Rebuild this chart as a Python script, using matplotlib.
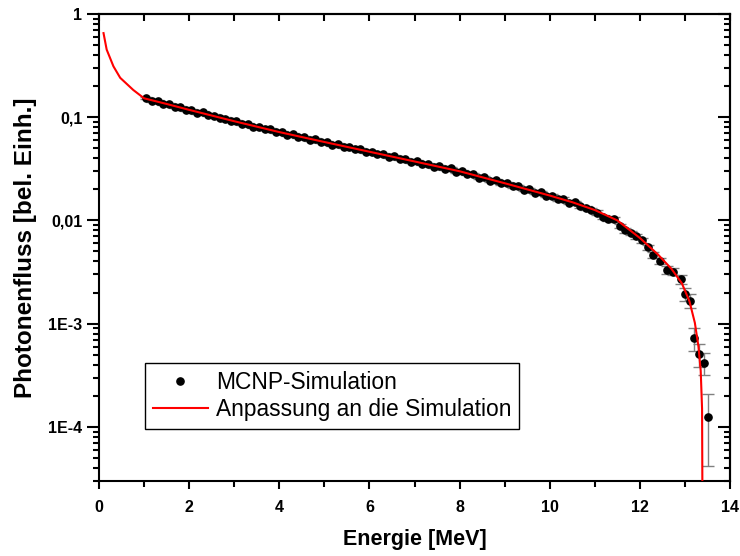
import numpy as np
import matplotlib
matplotlib.use("Agg")
import matplotlib.pyplot as plt
from matplotlib.lines import Line2D
from matplotlib.ticker import FixedLocator, FixedFormatter, LogLocator, NullFormatter, MultipleLocator

plt.rcParams['font.family'] = ['Liberation Sans', 'DejaVu Sans']

# MCNP simulation: energy [MeV], photon flux [arb. units], relative error
energy = [1.05, 1.175, 1.3, 1.425, 1.55, 1.675, 1.8, 1.925,
          2.05, 2.175, 2.3, 2.425, 2.55, 2.675, 2.8, 2.925,
          3.05, 3.175, 3.3, 3.425, 3.55, 3.675, 3.8, 3.925,
          4.05, 4.175, 4.3, 4.425, 4.55, 4.675, 4.8, 4.925,
          5.05, 5.175, 5.3, 5.425, 5.55, 5.675, 5.8, 5.925,
          6.05, 6.175, 6.3, 6.425, 6.55, 6.675, 6.8, 6.925,
          7.05, 7.175, 7.3, 7.425, 7.55, 7.675, 7.8, 7.925,
          8.05, 8.175, 8.3, 8.425, 8.55, 8.675, 8.8, 8.925,
          9.05, 9.175, 9.3, 9.425, 9.55, 9.675, 9.8, 9.925,
          10.05, 10.175, 10.3, 10.425, 10.55, 10.675, 10.8, 10.925,
          11.05, 11.175, 11.3, 11.425, 11.55, 11.675, 11.8, 11.925,
          12.05, 12.175,
          12.30, 12.45, 12.60, 12.74, 12.91, 13.00, 13.11, 13.19, 13.31, 13.43, 13.52]
flux = [0.152, 0.143, 0.142, 0.134, 0.133, 0.126, 0.125, 0.118,
        0.117, 0.110, 0.111, 0.104, 0.1035, 0.0972, 0.0968, 0.0915,
        0.0912, 0.0862, 0.0858, 0.0808, 0.0805, 0.0761, 0.0765, 0.0718,
        0.0712, 0.0675, 0.0681, 0.0641, 0.0638, 0.0603, 0.0609, 0.0574,
        0.0573, 0.0541, 0.0545, 0.0513, 0.0514, 0.0488, 0.0488, 0.0458,
        0.0463, 0.0436, 0.0440, 0.0414, 0.0416, 0.0390, 0.0395, 0.0370,
        0.0374, 0.0349, 0.0353, 0.0331, 0.0336, 0.0313, 0.0318, 0.0296,
        0.0299, 0.0279, 0.0281, 0.0260, 0.0262, 0.0243, 0.0246, 0.0228,
        0.0230, 0.0213, 0.0215, 0.0199, 0.0201, 0.0185, 0.0187, 0.0173,
        0.0174, 0.0160, 0.0161, 0.0148, 0.0149, 0.0137, 0.0132, 0.0127,
        0.0119, 0.0108, 0.0104, 0.0102, 0.0088, 0.0080, 0.0076, 0.0070,
        0.0064, 0.0055,
        4.63e-3, 4.05e-3, 3.32e-3, 3.19e-3, 2.69e-3, 1.94e-3, 1.67e-3, 7.2e-4, 5.1e-4, 4.2e-4, 1.26e-4]
rel_err = [0.025] * 72 + [0.035] * 8 + [0.05] * 10 + \
          [0.07, 0.07, 0.08, 0.08, 0.09, 0.14, 0.15, 0.25, 0.25, 0.24, 0.67]

# fitted curve
fit_energy = [0.10, 0.17, 0.32, 0.47, 0.76, 1.0, 1.5, 2.0, 3.0, 4.0, 5.0, 6.0, 7.0, 8.0,
              9.0, 10.0, 10.5, 11.0, 11.5, 12.0, 12.4, 12.7, 12.93, 13.1, 13.22, 13.30,
              13.35, 13.38, 13.40]
fit_flux = [0.65, 0.45, 0.31, 0.24, 0.183, 0.152, 0.134, 0.1175, 0.0912, 0.0716, 0.0574,
            0.0462, 0.0372, 0.0299, 0.0229, 0.0174, 0.0150, 0.0126, 0.0100, 0.00676,
            0.00468, 0.0034, 0.00247, 0.00165, 0.00102, 6.0e-4, 3.5e-4, 1.5e-4, 1e-6]

y_ticks = [1, 0.1, 0.01, 1e-3, 1e-4]
y_ticklabels = ["1", "0,1", "0,01", "1E-3", "1E-4"]

fig = plt.figure(figsize=(7.4, 5.56), dpi=100)
ax = fig.add_axes([0.1338, 0.1349, 0.8527, 0.8403])

flux_arr = np.array(flux)
ax.errorbar(energy, flux, yerr=flux_arr * np.array(rel_err), fmt='o', color='black',
            markersize=5.2, ecolor='#808080', elinewidth=1, capsize=4.5, capthick=1,
            zorder=2)
ax.plot(fit_energy, fit_flux, color='red', linewidth=1.5, zorder=3)

ax.set_yscale('log')
ax.set_xlim(0, 14)
ax.set_ylim(3.0e-5, 1)

ax.xaxis.set_major_locator(MultipleLocator(2))
ax.xaxis.set_minor_locator(MultipleLocator(1))
ax.yaxis.set_major_locator(FixedLocator(y_ticks))
ax.yaxis.set_major_formatter(FixedFormatter(y_ticklabels))
ax.yaxis.set_minor_locator(LogLocator(base=10, subs=np.arange(2, 10), numticks=20))
ax.yaxis.set_minor_formatter(NullFormatter())

for sp in ax.spines.values():
    sp.set_linewidth(1.5)
ax.tick_params(which='major', direction='out', length=6, width=1.5, labelsize=11.5)
ax.tick_params(axis='x', which='major', pad=8)
ax.tick_params(axis='y', which='major', length=9, pad=3)
ax.tick_params(which='minor', direction='out', length=4.5, width=1.5)
for lab in ax.get_xticklabels() + ax.get_yticklabels():
    lab.set_fontweight('bold')

# mirrored axes with inward ticks on top and right
top = ax.secondary_xaxis('top')
top.xaxis.set_major_locator(MultipleLocator(1))
top.tick_params(which='both', direction='in', length=5, width=1.5, labeltop=False)
right = ax.secondary_yaxis('right')
right.yaxis.set_major_locator(FixedLocator(y_ticks))
right.yaxis.set_minor_locator(LogLocator(base=10, subs=np.arange(2, 10), numticks=20))
right.yaxis.set_minor_formatter(NullFormatter())
right.tick_params(which='major', direction='in', length=9, width=1.5, labelright=False)
right.tick_params(which='minor', direction='in', length=4.5, width=1.5)
for s in (top, right):
    for sp in s.spines.values():
        sp.set_linewidth(1.5)

ax.set_xlabel("Energie [MeV]", fontsize=15.5, fontweight='bold', labelpad=10)
ax.set_ylabel("Photonenfluss [bel. Einh.]", fontsize=17.5, fontweight='bold', labelpad=8)

handles = [Line2D([], [], marker='o', color='black', linestyle='none', markersize=5.2),
           Line2D([], [], color='red', linewidth=1.5)]
labels = ["MCNP-Simulation", "Anpassung an die Simulation"]
leg = ax.legend(handles, labels, loc='upper left', bbox_to_anchor=(0.073, 0.253),
                borderaxespad=0, fontsize=16.4, frameon=True, fancybox=False,
                edgecolor='black', framealpha=1, handlelength=2.4, handletextpad=0.35,
                borderpad=0.35, labelspacing=0.2, numpoints=1)
leg.get_frame().set_linewidth(1.0)

plt.savefig("out.png", dpi=100)
